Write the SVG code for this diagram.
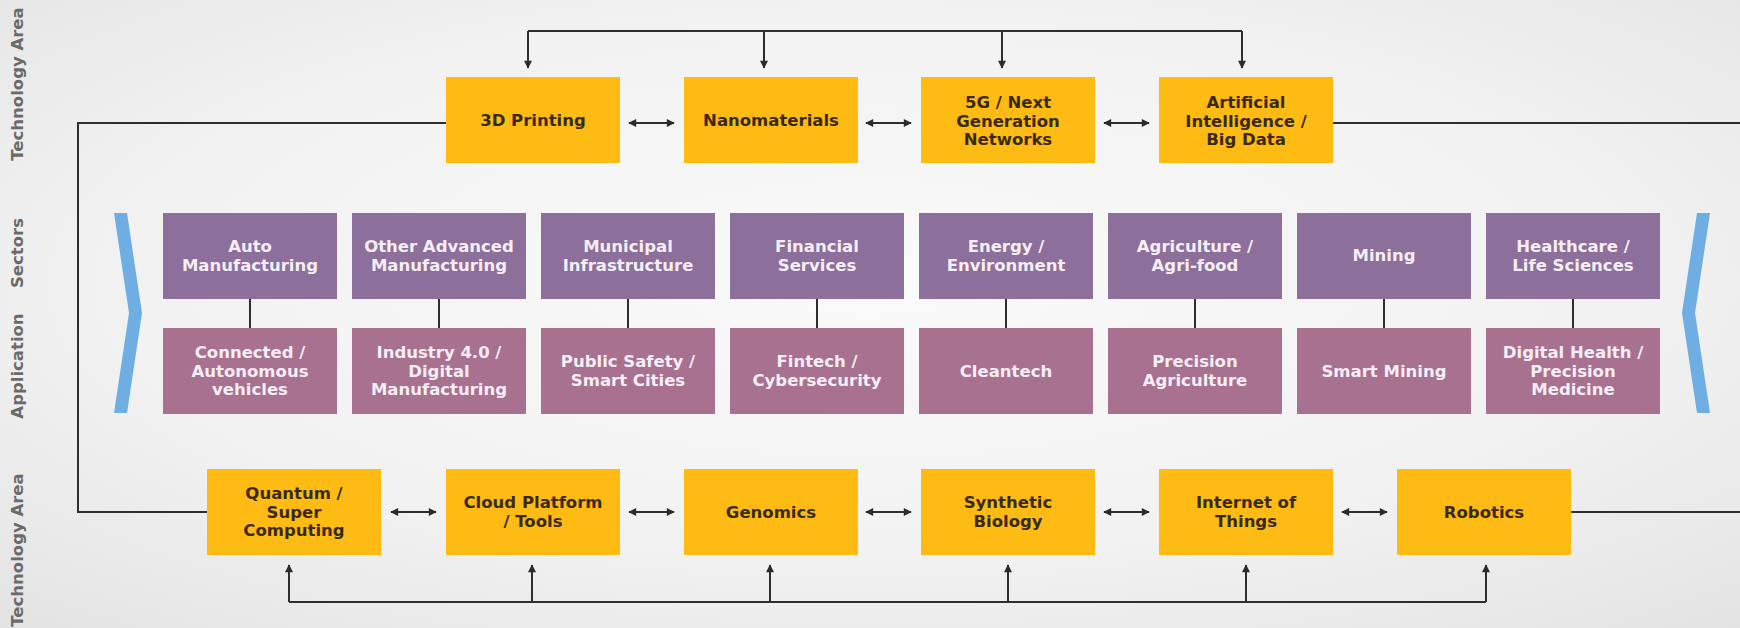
<svg xmlns="http://www.w3.org/2000/svg" width="1740" height="628" viewBox="0 0 1740 628">
<defs>
<radialGradient id="bg" cx="0.5" cy="0.45" r="0.75">
<stop offset="0" stop-color="#fafafa"/>
<stop offset="0.6" stop-color="#f1f1f1"/>
<stop offset="1" stop-color="#e3e3e3"/>
</radialGradient>
<marker id="ah" viewBox="0 0 10 10" refX="9" refY="5" markerWidth="9" markerHeight="8" markerUnits="userSpaceOnUse" orient="auto-start-reverse">
<path d="M0,0 L10,5 L0,10 z" fill="#2b2b2b"/>
</marker>
</defs>
<style>
.tech{fill:#fdbb14}
.sec{fill:#8c6f9b}
.app{fill:#a8718f}
.tt{font-family:"DejaVu Sans","Liberation Sans",sans-serif;font-weight:bold;font-size:16.5px;fill:#3a2a12;text-anchor:middle}
.st{font-family:"DejaVu Sans","Liberation Sans",sans-serif;font-weight:bold;font-size:16.5px;fill:#f6eef6;text-anchor:middle}
.side{font-family:"DejaVu Sans","Liberation Sans",sans-serif;font-weight:bold;font-size:16.5px;fill:#6a6a6a;text-anchor:middle}
.ln{stroke:#2e2e2e;stroke-width:2;fill:none}
.chev{fill:#6eaee2}
</style>
<rect x="0" y="0" width="1740" height="628" fill="url(#bg)"/>

<g id="side-labels">
<text class="side" transform="translate(23,84) rotate(-90)">Technology Area</text>
<text class="side" transform="translate(23,253) rotate(-90)">Sectors</text>
<text class="side" transform="translate(23,366) rotate(-90)">Application</text>
<text class="side" transform="translate(23,550) rotate(-90)">Technology Area</text>
</g>

<g id="chevrons">
<polygon class="chev" points="114,213 127,213 142,313 127,413 114,413 129,313"/>
<polygon class="chev" points="1710,213 1697,213 1682,313 1697,413 1710,413 1695,313"/>
</g>

<g id="connectors">
<path class="ln" d="M528,31 H1242"/>
<path class="ln" d="M528,31 V68" marker-end="url(#ah)"/>
<path class="ln" d="M764,31 V68" marker-end="url(#ah)"/>
<path class="ln" d="M1002,31 V68" marker-end="url(#ah)"/>
<path class="ln" d="M1242,31 V68" marker-end="url(#ah)"/>
<path class="ln" d="M446,123 H78 V512 H207"/>
<path class="ln" d="M1333,123 H1740"/>
<path class="ln" d="M1571,512 H1740"/>
<path class="ln" d="M289,602 H1486"/>
<path class="ln" d="M289,602 V565" marker-end="url(#ah)"/>
<path class="ln" d="M532,602 V565" marker-end="url(#ah)"/>
<path class="ln" d="M770,602 V565" marker-end="url(#ah)"/>
<path class="ln" d="M1008,602 V565" marker-end="url(#ah)"/>
<path class="ln" d="M1246,602 V565" marker-end="url(#ah)"/>
<path class="ln" d="M1486,602 V565" marker-end="url(#ah)"/>
<path class="ln" d="M629,123 H674" marker-start="url(#ah)" marker-end="url(#ah)"/>
<path class="ln" d="M866,123 H911" marker-start="url(#ah)" marker-end="url(#ah)"/>
<path class="ln" d="M1104,123 H1149" marker-start="url(#ah)" marker-end="url(#ah)"/>
<path class="ln" d="M391,512 H436" marker-start="url(#ah)" marker-end="url(#ah)"/>
<path class="ln" d="M629,512 H674" marker-start="url(#ah)" marker-end="url(#ah)"/>
<path class="ln" d="M866,512 H911" marker-start="url(#ah)" marker-end="url(#ah)"/>
<path class="ln" d="M1104,512 H1149" marker-start="url(#ah)" marker-end="url(#ah)"/>
<path class="ln" d="M1342,512 H1387" marker-start="url(#ah)" marker-end="url(#ah)"/>
<path class="ln" d="M250,299 V328"/>
<path class="ln" d="M439,299 V328"/>
<path class="ln" d="M628,299 V328"/>
<path class="ln" d="M817,299 V328"/>
<path class="ln" d="M1006,299 V328"/>
<path class="ln" d="M1195,299 V328"/>
<path class="ln" d="M1384,299 V328"/>
<path class="ln" d="M1573,299 V328"/>
</g>

<g id="t-3dprinting"><rect class="tech" x="446" y="77" width="174" height="86"/><text class="tt" x="533" y="126">3D Printing</text></g>
<g id="t-nano"><rect class="tech" x="684" y="77" width="174" height="86"/><text class="tt" x="771" y="126">Nanomaterials</text></g>
<g id="t-5g"><rect class="tech" x="921" y="77" width="174" height="86"/><text class="tt" x="1008" y="108"><tspan x="1008">5G / Next</tspan><tspan x="1008" dy="18.5">Generation</tspan><tspan x="1008" dy="18.5">Networks</tspan></text></g>
<g id="t-ai"><rect class="tech" x="1159" y="77" width="174" height="86"/><text class="tt" x="1246" y="108"><tspan x="1246">Artificial</tspan><tspan x="1246" dy="18.5">Intelligence /</tspan><tspan x="1246" dy="18.5">Big Data</tspan></text></g>

<g id="b-quantum"><rect class="tech" x="207" y="469" width="174" height="86"/><text class="tt" x="294" y="499"><tspan x="294">Quantum /</tspan><tspan x="294" dy="18.5">Super</tspan><tspan x="294" dy="18.5">Computing</tspan></text></g>
<g id="b-cloud"><rect class="tech" x="446" y="469" width="174" height="86"/><text class="tt" x="533" y="508"><tspan x="533">Cloud Platform</tspan><tspan x="533" dy="18.5">/ Tools</tspan></text></g>
<g id="b-genomics"><rect class="tech" x="684" y="469" width="174" height="86"/><text class="tt" x="771" y="518">Genomics</text></g>
<g id="b-synbio"><rect class="tech" x="921" y="469" width="174" height="86"/><text class="tt" x="1008" y="508"><tspan x="1008">Synthetic</tspan><tspan x="1008" dy="18.5">Biology</tspan></text></g>
<g id="b-iot"><rect class="tech" x="1159" y="469" width="174" height="86"/><text class="tt" x="1246" y="508"><tspan x="1246">Internet of</tspan><tspan x="1246" dy="18.5">Things</tspan></text></g>
<g id="b-robotics"><rect class="tech" x="1397" y="469" width="174" height="86"/><text class="tt" x="1484" y="518">Robotics</text></g>

<g id="s-auto"><rect class="sec" x="163" y="213" width="174" height="86"/><text class="st" x="250" y="252"><tspan x="250">Auto</tspan><tspan x="250" dy="18.5">Manufacturing</tspan></text></g>
<g id="s-otheradv"><rect class="sec" x="352" y="213" width="174" height="86"/><text class="st" x="439" y="252"><tspan x="439">Other Advanced</tspan><tspan x="439" dy="18.5">Manufacturing</tspan></text></g>
<g id="s-municipal"><rect class="sec" x="541" y="213" width="174" height="86"/><text class="st" x="628" y="252"><tspan x="628">Municipal</tspan><tspan x="628" dy="18.5">Infrastructure</tspan></text></g>
<g id="s-financial"><rect class="sec" x="730" y="213" width="174" height="86"/><text class="st" x="817" y="252"><tspan x="817">Financial</tspan><tspan x="817" dy="18.5">Services</tspan></text></g>
<g id="s-energy"><rect class="sec" x="919" y="213" width="174" height="86"/><text class="st" x="1006" y="252"><tspan x="1006">Energy /</tspan><tspan x="1006" dy="18.5">Environment</tspan></text></g>
<g id="s-agri"><rect class="sec" x="1108" y="213" width="174" height="86"/><text class="st" x="1195" y="252"><tspan x="1195">Agriculture /</tspan><tspan x="1195" dy="18.5">Agri-food</tspan></text></g>
<g id="s-mining"><rect class="sec" x="1297" y="213" width="174" height="86"/><text class="st" x="1384" y="261">Mining</text></g>
<g id="s-health"><rect class="sec" x="1486" y="213" width="174" height="86"/><text class="st" x="1573" y="252"><tspan x="1573">Healthcare /</tspan><tspan x="1573" dy="18.5">Life Sciences</tspan></text></g>

<g id="a-connected"><rect class="app" x="163" y="328" width="174" height="86"/><text class="st" x="250" y="358"><tspan x="250">Connected /</tspan><tspan x="250" dy="18.5">Autonomous</tspan><tspan x="250" dy="18.5">vehicles</tspan></text></g>
<g id="a-industry"><rect class="app" x="352" y="328" width="174" height="86"/><text class="st" x="439" y="358"><tspan x="439">Industry 4.0 /</tspan><tspan x="439" dy="18.5">Digital</tspan><tspan x="439" dy="18.5">Manufacturing</tspan></text></g>
<g id="a-publicsafety"><rect class="app" x="541" y="328" width="174" height="86"/><text class="st" x="628" y="367"><tspan x="628">Public Safety /</tspan><tspan x="628" dy="18.5">Smart Cities</tspan></text></g>
<g id="a-fintech"><rect class="app" x="730" y="328" width="174" height="86"/><text class="st" x="817" y="367"><tspan x="817">Fintech /</tspan><tspan x="817" dy="18.5">Cybersecurity</tspan></text></g>
<g id="a-cleantech"><rect class="app" x="919" y="328" width="174" height="86"/><text class="st" x="1006" y="377">Cleantech</text></g>
<g id="a-precisionag"><rect class="app" x="1108" y="328" width="174" height="86"/><text class="st" x="1195" y="367"><tspan x="1195">Precision</tspan><tspan x="1195" dy="18.5">Agriculture</tspan></text></g>
<g id="a-smartmining"><rect class="app" x="1297" y="328" width="174" height="86"/><text class="st" x="1384" y="377">Smart Mining</text></g>
<g id="a-digitalhealth"><rect class="app" x="1486" y="328" width="174" height="86"/><text class="st" x="1573" y="358"><tspan x="1573">Digital Health /</tspan><tspan x="1573" dy="18.5">Precision</tspan><tspan x="1573" dy="18.5">Medicine</tspan></text></g>
</svg>
